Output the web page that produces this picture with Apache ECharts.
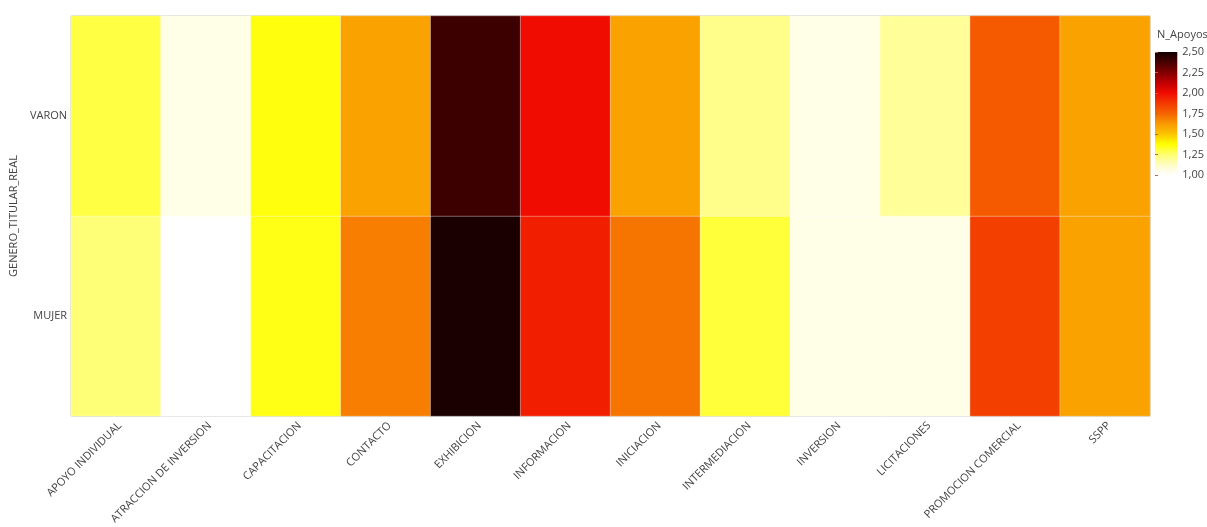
<!DOCTYPE html>
<html><head><meta charset="utf-8">
<script src="https://cdn.jsdelivr.net/npm/echarts@6/dist/echarts.min.js"></script>
<style>html,body{margin:0;padding:0;background:#fff}#c{width:1207px;height:527px}</style>
</head><body><div id="c"></div>
<script>
var categories = ['APOYO INDIVIDUAL','ATRACCION DE INVERSION','CAPACITACION','CONTACTO','EXHIBICION','INFORMACION','INICIACION','INTERMEDIACION','INVERSION','LICITACIONES','PROMOCION COMERCIAL','SSPP'];
var genders = ['MUJER','VARON'];
var varonValues = [1.30, 1.05, 1.36, 1.60, 2.40, 2.00, 1.60, 1.21, 1.05, 1.19, 1.78, 1.60];
var mujerValues = [1.24, 1.00, 1.35, 1.69, 2.48, 1.95, 1.71, 1.31, 1.05, 1.05, 1.86, 1.60];
var scaleMin = 1.0, scaleMax = 2.5, scaleStep = 0.25;
var palette = ['#FFFFFF','#FFFCC4','#FFFF70','#FFFF00','#FCC400','#F99A00','#F56400','#F33A00','#F00C00','#C00000','#820000','#480000','#120000'];

var FONT = 'Open Sans';
var data = [];
mujerValues.forEach(function(v,i){ data.push([i,0,v]); });
varonValues.forEach(function(v,i){ data.push([i,1,v]); });

var stops = palette.map(function(c,i){ return {offset: i/(palette.length-1), color: c}; });

var chart = echarts.init(document.getElementById('c'));
chart.setOption({
  animation:false,
  textStyle:{fontFamily:FONT},
  title:{text:'N_Apoyos', left:1152, top:24, textStyle:{fontFamily:FONT, fontSize:11, fontWeight:'normal', color:'#444'}},
  grid:[
    {left:71, right:57, top:16, bottom:111, show:true, borderColor:'#ABABAB', borderWidth:1, backgroundColor:'transparent'},
    {left:1155, top:52, width:23, height:123, show:true, borderWidth:0,
     backgroundColor: new echarts.graphic.LinearGradient(0,1,0,0, stops)}
  ],
  xAxis:[
    {type:'category', data:categories, gridIndex:0, axisLine:{show:false}, axisTick:{show:false}, splitLine:{show:false},
     axisLabel:{interval:0, rotate:45, fontFamily:FONT, fontSize:11, color:'#444', margin:4, verticalAlign:'top'}},
    {type:'value', gridIndex:1, show:false, min:0, max:1}
  ],
  yAxis:[
    {type:'category', data:genders, gridIndex:0, axisLine:{show:false}, axisTick:{show:false}, splitLine:{show:false},
     axisLabel:{fontFamily:FONT, fontSize:11, color:'#444', margin:4},
     name:'GENERO_TITULAR_REAL', nameLocation:'middle', nameGap:42, nameRotate:90,
     nameTextStyle:{fontFamily:FONT, fontSize:11, color:'#444'}},
    {type:'value', gridIndex:1, position:'right', min:scaleMin, max:scaleMax, interval:scaleStep,
     axisLine:{show:false}, splitLine:{show:false},
     axisTick:{show:true, length:3, lineStyle:{color:'#C06040'}},
     axisLabel:{fontFamily:FONT, fontSize:11, color:'#444', margin:5,
       formatter:function(v){ return v.toFixed(2).replace('.',','); }}}
  ],
  visualMap:{show:false, type:'continuous', min:scaleMin, max:scaleMax, dimension:2, seriesIndex:0,
    inRange:{color:palette}},
  series:[{
    type:'heatmap', xAxisIndex:0, yAxisIndex:0, data:data,
    itemStyle:{borderColor:'rgba(255,255,255,0.35)', borderWidth:1},
    emphasis:{disabled:true}
  }]
});
</script></body></html>
